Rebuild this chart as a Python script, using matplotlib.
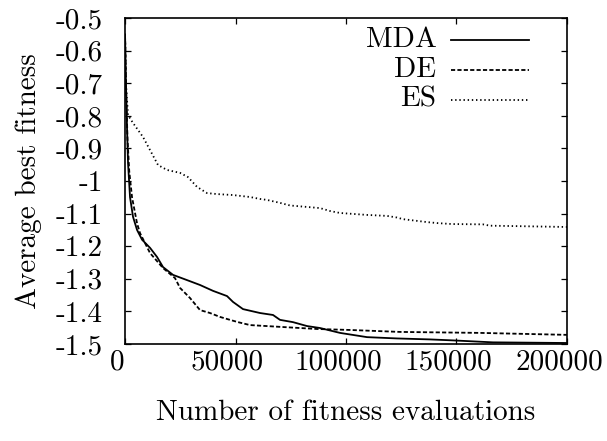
import matplotlib
matplotlib.use("Agg")
import matplotlib.pyplot as plt
from matplotlib.transforms import ScaledTranslation

plt.rcParams["font.family"] = ["cmr10", "DejaVu Serif"]
plt.rcParams["mathtext.fontset"] = "cm"
plt.rcParams["axes.unicode_minus"] = False
plt.rcParams["axes.formatter.use_mathtext"] = True
plt.rcParams["lines.scale_dashes"] = False

# Convergence data: evaluations vs. average best fitness
mda_x = [0, 400, 905, 1357, 2262, 3620, 5430, 7692, 11312, 14480, 17195, 21720,
         28055, 33937, 39820, 46155, 48870, 53395, 61087, 66970, 70137, 76020,
         82355, 88237, 97287, 109505, 123080, 138012, 148420, 166520, 200000]
mda_y = [-0.55, -0.70, -0.84, -0.945, -1.05, -1.11, -1.15, -1.18, -1.205, -1.233,
         -1.264, -1.288, -1.304, -1.319, -1.337, -1.353, -1.371, -1.393, -1.405,
         -1.411, -1.426, -1.433, -1.445, -1.451, -1.466, -1.479, -1.483, -1.486,
         -1.489, -1.495, -1.497]

de_x = [0, 500, 1100, 1900, 3167, 5430, 6788, 11312, 17195, 22625, 24887, 29412,
        33937, 38462, 42987, 47512, 51132, 56562, 71495, 86880, 101812, 124437,
        160637, 200000]
de_y = [-0.55, -0.72, -0.87, -0.97, -1.05, -1.13, -1.16, -1.221, -1.267, -1.298,
        -1.328, -1.359, -1.396, -1.405, -1.417, -1.426, -1.433, -1.442, -1.448,
        -1.454, -1.457, -1.463, -1.466, -1.472]

es_x = [0, 400, 1357, 3620, 8145, 11312, 14932, 19005, 24887, 28507, 32580,
        37105, 41630, 48870, 56562, 61087, 64255, 70137, 74662, 88237, 92762,
        97287, 109505, 118555, 123080, 125795, 136655, 141180, 147967, 161995,
        165162, 200000]
es_y = [-0.55, -0.70, -0.798, -0.822, -0.865, -0.905, -0.951, -0.966, -0.975,
        -0.988, -1.018, -1.037, -1.040, -1.043, -1.049, -1.055, -1.058, -1.067,
        -1.075, -1.083, -1.092, -1.098, -1.104, -1.107, -1.112, -1.117, -1.126,
        -1.129, -1.132, -1.133, -1.137, -1.141]

x_ticks = [0, 50000, 100000, 150000, 200000]
x_tick_labels = ["0", "50000", "100000", "150000", "200000"]
y_ticks = [-0.5, -0.6, -0.7, -0.8, -0.9, -1.0, -1.1, -1.2, -1.3, -1.4, -1.5]
y_tick_labels = ["-0.5", "-0.6", "-0.7", "-0.8", "-0.9", "-1", "-1.1", "-1.2",
                 "-1.3", "-1.4", "-1.5"]

series = [
    ("MDA", mda_x, mda_y, "-"),
    ("DE", de_x, de_y, (0, (3.0, 1.6))),
    ("ES", es_x, es_y, (0, (1.0, 2.0))),
]

FS = 21

fig = plt.figure(figsize=(6.07, 4.41), dpi=100)
ax = fig.add_axes([0.206, 0.22, 0.728, 0.739])

for name, xs, ys, ls in series:
    ax.plot(xs, ys, color="black", lw=1.3, linestyle=ls)

ax.set_xlim(0, 200000)
ax.set_ylim(-1.5, -0.5)
ax.set_xticks(x_ticks)
ax.set_xticklabels(x_tick_labels)
ax.set_yticks(y_ticks)
ax.set_yticklabels(y_tick_labels)
ax.tick_params(direction="in", length=4, width=0.9, top=True, right=True,
               labelsize=FS)
ax.tick_params(axis="x", pad=4)
ax.tick_params(axis="y", pad=16)
for sp in ax.spines.values():
    sp.set_linewidth(1.2)

# x tick labels sit slightly left of their ticks
shift = ScaledTranslation(-8 / 100, 0, fig.dpi_scale_trans)
for lab in ax.get_xticklabels():
    lab.set_transform(lab.get_transform() + shift)

ax.set_xlabel("Number of fitness evaluations", fontsize=FS, labelpad=17)
ax.set_ylabel("Average best fitness", fontsize=FS, labelpad=10)

# key in the upper right, text right-aligned before each line sample
for i, (name, xs, ys, ls) in enumerate(series):
    yk = 0.932 - i * 0.091
    ax.text(0.705, yk, name, transform=ax.transAxes, ha="right", va="center",
            fontsize=FS)
    ax.plot([0.738, 0.914], [yk, yk], transform=ax.transAxes, color="black",
            lw=1.3, linestyle=ls)

fig.savefig("out.png", dpi=100)
